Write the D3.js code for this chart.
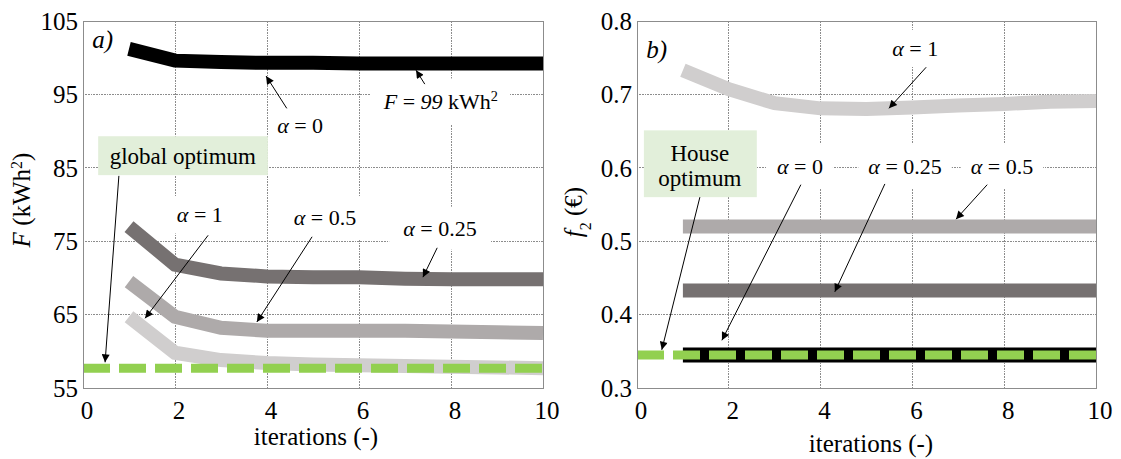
<!DOCTYPE html>
<html><head><meta charset="utf-8">
<script src="https://cdn.jsdelivr.net/npm/d3@7"></script>
<style>body{margin:0;background:#fff}</style>
</head><body>
<svg id="c" width="1121" height="459"></svg>
<script>
// ---------- data ----------
const iterations = [1,2,3,4,5,6,7,8,9,10];
const xTicks = [0,2,4,6,8,10];
const leftYTicks = [55,65,75,85,95,105];
const rightYTicks = [0.3,0.4,0.5,0.6,0.7,0.8];
const rightYTickLabels = ["0.3","0.4","0.5","0.6","0.7","0.8"];

// panel a) F (kWh2)
const leftAlpha0   = [101.2,99.6,99.4,99.3,99.3,99.2,99.2,99.2,99.2,99.2];
const leftAlpha025 = [77.0,71.8,70.6,70.2,70.1,70.1,69.9,69.8,69.8,69.8];
const leftAlpha05  = [69.5,64.7,63.2,62.8,62.8,62.8,62.8,62.7,62.6,62.5];
const leftAlpha1   = [64.7,59.8,58.8,58.4,58.2,58.1,58.0,57.9,57.8,57.7];
const globalOptimum = 57.7;

// panel b) f2 (€)
const rightAlpha0   = [0.345,0.345,0.345,0.345,0.345,0.345,0.345,0.345,0.345,0.345];
const rightAlpha025 = [0.433,0.433,0.433,0.433,0.433,0.433,0.433,0.433,0.433,0.433];
const rightAlpha05  = [0.520,0.520,0.520,0.520,0.520,0.520,0.520,0.520,0.520,0.520];
const rightAlpha1   = [0.733,0.707,0.688,0.681,0.680,0.682,0.685,0.687,0.690,0.691];
const houseOptimum = 0.345;

// ---------- drawing ----------
const FONT = "Liberation Serif";
const svg = d3.select("#c");
const defs = svg.append("defs");
defs.append("marker").attr("id","ah").attr("viewBox","0 0 10 10")
  .attr("refX",10).attr("refY",5).attr("markerWidth",11).attr("markerHeight",8)
  .attr("markerUnits","userSpaceOnUse").attr("orient","auto")
  .append("path").attr("d","M0,0L10,5L0,10z").attr("fill","#000");

const colors = {a0:"#000000", a025:"#767171", a05:"#aeaaaa", a1:"#d0cece", green:"#92d050", box:"#e2efda", grid:"#8c8c8c"};

function txt(sel){ return sel.append("text").style("font-family",FONT).attr("fill","#000"); }

function panel(opt){
  const g = svg.append("g");
  const x = d3.scaleLinear().domain([0,10]).range(opt.xr);
  const y = d3.scaleLinear().domain(opt.yd).range([388,21]);
  g.append("g").selectAll("line").data(xTicks).join("line")
    .attr("x1",d=>x(d)).attr("x2",d=>x(d)).attr("y1",y.range()[0]).attr("y2",y.range()[1])
    .attr("stroke",colors.grid).attr("stroke-width",1).attr("stroke-dasharray","1,0.6").attr("shape-rendering","crispEdges");
  g.append("g").selectAll("line").data(opt.yTicks).join("line")
    .attr("x1",opt.xr[0]).attr("x2",opt.xr[1]).attr("y1",d=>y(d)).attr("y2",d=>y(d))
    .attr("stroke",colors.grid).attr("stroke-width",1).attr("stroke-dasharray","1,0.6").attr("shape-rendering","crispEdges");
  g.append("g").selectAll("text").data(opt.yTicks).join("text").style("font-family",FONT)
    .attr("x",opt.xr[0]-5).attr("y",d=>y(d)).attr("dy","0.35em").attr("text-anchor","end")
    .attr("font-size",25).text((d,i)=>opt.yLabels[i]);
  g.append("g").selectAll("text").data(xTicks).join("text").style("font-family",FONT)
    .attr("x",d=>x(d)+4).attr("y",419).attr("text-anchor","middle")
    .attr("font-size",25).text(d=>d);
  const boxLayer = g.append("g");
  const lineLayer = g.append("g");
  const annLayer = g.append("g");
  return {g,x,y,boxLayer,lineLayer,annLayer};
}

function drawSeries(p, xs, vals, color, width){
  const line = d3.line().x((d,i)=>p.x(xs[i])).y(d=>p.y(d));
  p.lineLayer.append("path").datum(vals).attr("d",line)
    .attr("fill","none").attr("stroke",color).attr("stroke-width",width)
    .attr("stroke-linejoin","miter").attr("stroke-linecap","butt");
}
function drawOptimum(p, v){
  p.lineLayer.append("line").attr("x1",p.x(0)).attr("x2",p.x(10)).attr("y1",p.y(v)).attr("y2",p.y(v))
    .attr("stroke",colors.green).attr("stroke-width",9).attr("stroke-dasharray","27,9");
}
function arrow(p, x1,y1,x2,y2){
  p.annLayer.append("line").attr("x1",p.x(x1)).attr("y1",p.y(y1)).attr("x2",p.x(x2)).attr("y2",p.y(y2))
    .attr("stroke","#000").attr("stroke-width",1).attr("marker-end","url(#ah)");
}
function label(p, cx, cy, parts, opts={}){
  const fs = opts.fs||22;
  const t = txt(p.annLayer).attr("x",p.x(cx)).attr("y",p.y(cy)).attr("dy","0.35em")
    .attr("text-anchor","middle").attr("font-size",fs);
  parts.forEach(pt=>{
    const s = t.append("tspan").text(pt.t);
    if(pt.i) s.attr("font-style","italic");
    if(pt.sup) s.attr("baseline-shift","super").attr("font-size",fs*0.65);
    if(pt.sub) s.attr("baseline-shift","sub").attr("font-size",fs*0.65);
  });
  if(!opts.noBox){
    const b = t.node().getBBox();
    const px = opts.px ?? 9, py = opts.py ?? 6;
    p.boxLayer.append("rect").attr("x",b.x-px).attr("y",b.y-py).attr("width",b.width+2*px).attr("height",b.height+2*py)
      .attr("fill","#fff");
  }
  return t;
}
function greenBox(p, x0,y0,x1,y1){
  p.boxLayer.append("rect").attr("x",p.x(x0)).attr("y",p.y(y0))
    .attr("width",p.x(x1)-p.x(x0)).attr("height",p.y(y1)-p.y(y0)).attr("fill",colors.box);
}
function border(p){
  p.g.append("rect").attr("x",p.x(0)).attr("y",p.y.range()[1]).attr("width",p.x(10)-p.x(0))
    .attr("height",p.y.range()[0]-p.y.range()[1]).attr("fill","none").attr("stroke","#8c8c8c").attr("stroke-width",1)
    .attr("shape-rendering","crispEdges");
}

// ----- panel a -----
const A = panel({xr:[83,543], yd:[55,105], yTicks:leftYTicks, yLabels:leftYTicks.map(String)});
drawSeries(A, iterations, leftAlpha0, colors.a0, 14);
drawSeries(A, iterations, leftAlpha025, colors.a025, 14);
drawSeries(A, iterations, leftAlpha05, colors.a05, 14);
drawSeries(A, iterations, leftAlpha1, colors.a1, 14);
drawOptimum(A, globalOptimum);
border(A);
txt(A.annLayer).attr("x",A.x(0.2)).attr("y",A.y(101.3)).attr("font-size",25).attr("font-style","italic").text("a)");
label(A, 4.72, 90.8, [{t:"α",i:true},{t:" = 0"}]);
arrow(A, 4.43, 93.1, 3.98, 97.5);
label(A, 7.78, 94.0, [{t:"F",i:true},{t:" = "},{t:"99",i:true},{t:" kWh"},{t:"2",sup:true}], {px:12,py:10});
arrow(A, 7.43, 96.4, 7.24, 98.3);
greenBox(A, 0.33, 89.3, 4.02, 84.0);
label(A, 2.17, 86.6, [{t:"global optimum"}], {noBox:true, fs:23});
arrow(A, 0.78, 83.9, 0.48, 58.5);
label(A, 2.54, 78.6, [{t:"α",i:true},{t:" = 1"}]);
arrow(A, 2.72, 75.8, 1.35, 64.5);
label(A, 5.26, 78.2, [{t:"α",i:true},{t:" = 0.5"}], {py:9});
arrow(A, 4.98, 75.6, 3.78, 64.0);
label(A, 7.76, 76.8, [{t:"α",i:true},{t:" = 0.25"}], {px:14,py:9});
arrow(A, 7.70, 74.1, 7.39, 70.1);
txt(svg).attr("transform","translate(30,200) rotate(-90)").attr("text-anchor","middle").attr("font-size",25)
  .call(t=>{t.append("tspan").attr("font-style","italic").text("F");t.append("tspan").text(" (kWh");
    t.append("tspan").attr("baseline-shift","super").attr("font-size",16).text("2");t.append("tspan").text(")");});
txt(svg).attr("x",316).attr("y",445).attr("text-anchor","middle").attr("font-size",25).text("iterations (-)");

// ----- panel b -----
const B = panel({xr:[637,1096], yd:[0.3,0.8], yTicks:rightYTicks, yLabels:rightYTickLabels});
drawSeries(B, iterations, rightAlpha1, colors.a1, 14);
drawSeries(B, iterations, rightAlpha05, colors.a05, 14);
drawSeries(B, iterations, rightAlpha025, colors.a025, 14);
drawSeries(B, iterations, rightAlpha0, colors.a0, 15);
drawOptimum(B, houseOptimum);
border(B);
txt(B.annLayer).attr("x",B.x(0.2)).attr("y",B.y(0.75)).attr("font-size",25).attr("font-style","italic").text("b)");
label(B, 6.06, 0.763, [{t:"α",i:true},{t:" = 1"}]);
arrow(B, 6.30, 0.737, 5.49, 0.681);
greenBox(B, 0.15, 0.651, 2.61, 0.560);
label(B, 1.37, 0.620, [{t:"House"}], {noBox:true, fs:23});
label(B, 1.37, 0.586, [{t:"optimum"}], {noBox:true, fs:23});
arrow(B, 1.37, 0.560, 0.54, 0.352);
label(B, 3.55, 0.602, [{t:"α",i:true},{t:" = 0"}], {px:10,py:10});
arrow(B, 3.57, 0.577, 1.85, 0.365);
label(B, 5.84, 0.602, [{t:"α",i:true},{t:" = 0.25"}], {px:10,py:10});
arrow(B, 5.40, 0.578, 4.31, 0.431);
label(B, 7.95, 0.602, [{t:"α",i:true},{t:" = 0.5"}], {px:10,py:10});
arrow(B, 7.63, 0.577, 6.95, 0.530);
txt(svg).attr("transform","translate(582,212) rotate(-90)").attr("text-anchor","middle").attr("font-size",25)
  .call(t=>{t.append("tspan").attr("font-style","italic").text("f");
    t.append("tspan").attr("baseline-shift","sub").attr("font-size",16).text("2");t.append("tspan").text(" (€)");});
txt(svg).attr("x",871).attr("y",452).attr("text-anchor","middle").attr("font-size",25).text("iterations (-)");
</script>
</body></html>
